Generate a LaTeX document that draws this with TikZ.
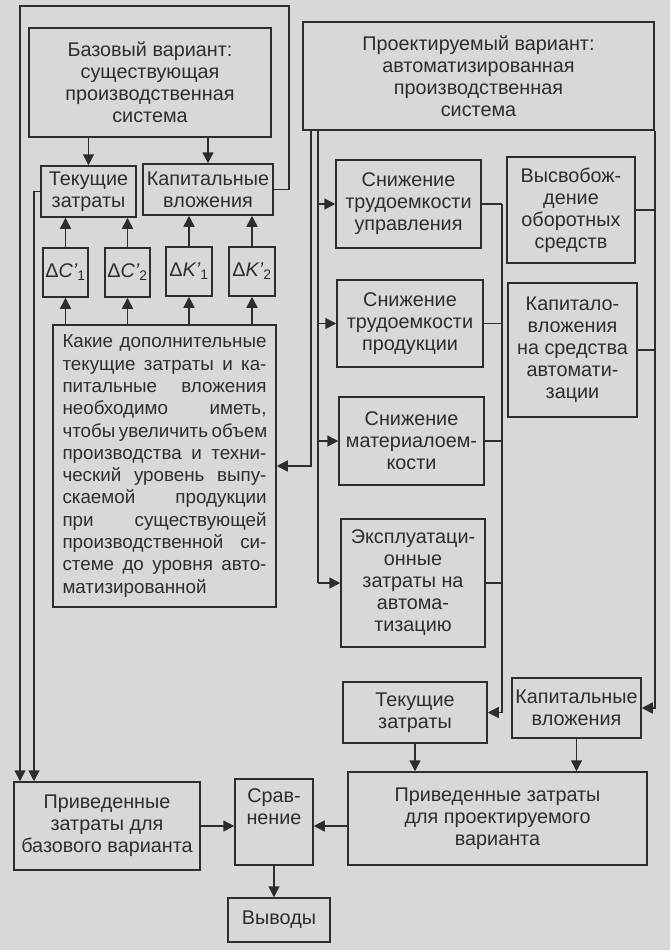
\documentclass[tikz,border=0pt]{standalone}
\usepackage{fontspec}
\setmainfont{Liberation Sans}
\usetikzlibrary{arrows.meta,calc}
\definecolor{paper}{RGB}{216,216,213}
\definecolor{ink}{RGB}{45,45,45}
\newcommand\mybox[6]{\node[box,minimum width={(#4-#2)*1pt},minimum height={(#5-#3)*1pt}] (#1) at ({(#2+#4)/2},{(#3+#5)/2}) {#6};}
\newcommand\jline[1]{\makebox[204pt][s]{#1}\\}
\begin{document}
\begin{tikzpicture}[x=1pt,y=-1pt,
  box/.style={draw=ink,line width=1.5pt,inner sep=0pt,align=center,text=ink,
    font=\fontsize{19.8}{22}\selectfont},
  arr/.style={draw=ink,line width=1.5pt,-{Triangle[length=11pt,width=11pt]}},
  lin/.style={draw=ink,line width=1.5pt}]
\fill[paper] (0,0) rectangle (670,950);
\useasboundingbox (0,0) rectangle (670,950);

\mybox{base}{29}{28}{271}{137}{Базовый вариант:\\существующая\\производственная\\система}
\mybox{tz1}{41}{166}{136}{217}{Текущие\\затраты}
\mybox{kv1}{143}{164}{273}{215}{Капитальные\\вложения}
\mybox{dc1}{43}{248}{88}{297}{Δ\textit{C’}\textsubscript{1}}
\mybox{dc2}{105}{248}{150}{297}{Δ\textit{C’}\textsubscript{2}}
\mybox{dk1}{166}{247}{212}{296}{Δ\textit{K’}\textsubscript{1}}
\mybox{dk2}{229}{247}{275}{296}{Δ\textit{K’}\textsubscript{2}}
\node[box,minimum width=223pt,minimum height=282pt,align=left,
  font=\fontsize{18.8}{22.3}\selectfont] (q) at (164.5,466) {%
\jline{Какие дополнительные}%
\jline{текущие затраты и ка-}%
\jline{питальные вложения}%
\jline{необходимо иметь,}%
\jline{чтобы увеличить объем}%
\jline{производства и техни-}%
\jline{ческий уровень выпу-}%
\jline{скаемой продукции}%
\jline{при существующей}%
\jline{производственной си-}%
\jline{стеме до уровня авто-}%
\makebox[204pt][l]{матизированной}};

\mybox{proj}{303}{22}{654}{130}{Проектируемый вариант:\\автоматизированная\\производственная\\система}
\mybox{s1}{336}{160}{481}{248}{Снижение\\трудоемкости\\управления}
\mybox{vysv}{507}{157}{635}{263}{Высвобож-\\дение\\оборотных\\средств}
\mybox{s2}{337}{280}{483}{367}{Снижение\\трудоемкости\\продукции}
\mybox{kapv}{508}{283}{637}{417}{Капитало-\\вложения\\на средства\\автомати-\\зации}
\mybox{s3}{339}{397}{484}{485}{Снижение\\материалоем-\\кости}
\mybox{s4}{341}{519}{485}{647}{Эксплуатаци-\\онные\\затраты на\\автома-\\тизацию}
\mybox{tz2}{343}{682}{487}{743}{Текущие\\затраты}
\mybox{kv2}{512}{678}{641}{738}{Капитальные\\вложения}
\mybox{pz2}{348}{772}{647}{865}{Приведенные затраты\\для проектируемого\\варианта}
\mybox{pz1}{14}{782}{200}{870}{Приведенные\\затраты для\\базового варианта}
\mybox{sr}{235}{779}{313}{865}{Срав-\\нение\\[8pt]}
\mybox{vy}{228}{898}{330}{942}{Выводы}

% left part
\draw[arr] (tz1.north |- base.south) -- (tz1.north);
\draw[arr] (kv1.north |- base.south) -- (kv1.north);
\draw[arr] (dc1.north) -- (dc1.north |- tz1.south);
\draw[arr] (dc2.north) -- (dc2.north |- tz1.south);
\draw[arr] (dk1.north) -- (dk1.north |- kv1.south);
\draw[arr] (dk2.north) -- (dk2.north |- kv1.south);
\foreach \n in {dc1,dc2,dk1,dk2} \draw[arr] (\n.south |- q.north) -- (\n.south);
\coordinate (tr) at (289,6);
\coordinate (tl) at (20,6);
\coordinate (il) at (34,0);
\draw[arr] (kv1.east) -| (tr) -- (tl) -- (tl |- pz1.north);
\draw[arr] (tz1.west) -| (il |- pz1.north);

% right part
\coordinate (pl) at (311,0);
\coordinate (pr) at (318,0);
\coordinate (mr) at (502,0);
\draw[arr] (pl |- proj.south) |- (q.east);
\draw[lin] (pr |- proj.south) -- (pr |- s4.west);
\foreach \n in {s1,s2,s3,s4} {
  \draw[arr] (pr |- \n.west) -- (\n.west);
  \draw[lin] (\n.east) -- (mr |- \n.east);
}
\draw[arr] (mr |- s1.east) |- (tz2.east);
\draw[arr] (proj.south east) |- (kv2.east);
\draw[lin] (vysv.east) -- (proj.south east |- vysv.east);
\draw[lin] (kapv.east) -- (proj.south east |- kapv.east);
\draw[arr] (tz2.south) -- (tz2.south |- pz2.north);
\draw[arr] (kv2.south) -- (kv2.south |- pz2.north);

% bottom
\draw[arr] (pz1.east) -- (pz1.east -| sr.west);
\draw[arr] (pz2.west |- pz1.east) -- (sr.east |- pz1.east);
\draw[arr] (sr.south) -- (sr.south |- vy.north);
\end{tikzpicture}
\end{document}
